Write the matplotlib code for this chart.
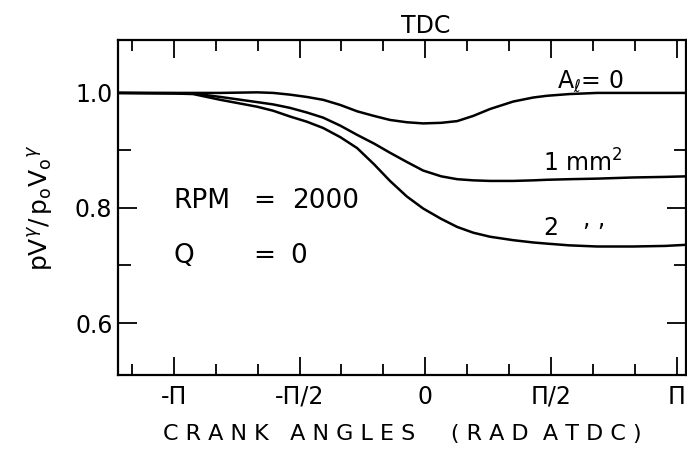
import numpy as np
import matplotlib
matplotlib.use("Agg")
import matplotlib.pyplot as plt

# crank angle (rad ATDC)
theta = [-3.85, -3.14, -2.9, -2.56, -2.1, -1.9, -1.69, -1.48, -1.275, -1.06, -0.85, -0.64,
         -0.44, -0.23, -0.025, 0.2, 0.4, 0.6, 0.81, 1.1, 1.35, 1.52, 1.8, 2.15, 2.6, 3.0, 3.27]

# A_l = 0
a0 = [1.0, 1.0, 1.0, 1.0, 1.001, 1.0, 0.997, 0.993, 0.988, 0.979, 0.968, 0.960,
      0.953, 0.949, 0.947, 0.948, 0.951, 0.960, 0.972, 0.985, 0.992, 0.995, 0.998, 1.0, 1.0, 1.0, 1.0]
# A_l = 1 mm^2
a1 = [1.0, 0.9995, 0.999, 0.993, 0.984, 0.980, 0.974, 0.966, 0.957, 0.943, 0.927, 0.912,
      0.896, 0.880, 0.865, 0.855, 0.850, 0.848, 0.847, 0.847, 0.848, 0.849, 0.850, 0.851, 0.853, 0.854, 0.855]
# A_l = 2 mm^2
a2 = [1.0, 0.999, 0.998, 0.988, 0.976, 0.969, 0.959, 0.950, 0.939, 0.923, 0.904, 0.876,
      0.847, 0.820, 0.799, 0.781, 0.767, 0.757, 0.750, 0.744, 0.740, 0.738, 0.735, 0.733, 0.733, 0.734, 0.736]

xticks = [-np.pi, -np.pi / 2, 0, np.pi / 2, np.pi]
xticklabels = ["-\u03a0", "-\u03a0/2", "0", "\u03a0/2", "\u03a0"]
yticks = [0.6, 0.8, 1.0]
yticklabels = ["0.6", "0.8", "1.0"]

plt.rcParams["mathtext.fontset"] = "dejavusans"

fig = plt.figure(figsize=(6.87, 4.55), dpi=100)
ax = fig.add_axes([118 / 687, 80 / 455, 568 / 687, 335 / 455])

for y in (a0, a1, a2):
    ax.plot(theta, y, color="black", lw=1.8)

ax.set_xlim(-3.84, 3.26)
ax.set_ylim(0.5096, 1.092)

ax.set_xticks(xticks)
ax.set_xticklabels(xticklabels, fontsize=17)
ax.set_xticks(np.arange(-7, 7) * np.pi / 6, minor=True)
ax.set_yticks(yticks)
ax.set_yticklabels(yticklabels, fontsize=17)
ax.set_yticks([0.7, 0.9], minor=True)

ax.tick_params(axis="x", which="both", direction="in", top=True, bottom=True, width=1.3)
ax.tick_params(axis="x", which="major", length=13, pad=7)
ax.tick_params(axis="x", which="minor", length=8)
ax.tick_params(axis="y", which="both", direction="in", width=1.3, left=True, right=True, pad=4)
ax.tick_params(axis="y", which="major", length=14)
ax.tick_params(axis="y", which="minor", length=9)
for s in ax.spines.values():
    s.set_linewidth(1.6)

ax.set_xlabel("C R A N K   A N G L E S     ( R A D  A T D C )", fontsize=16, labelpad=11)
ax.set_ylabel(r"$\mathrm{pV}^{\gamma}/\,\mathrm{p_oV_o}^{\gamma}$", fontsize=18)
ax.yaxis.set_label_coords(-0.111, 0.5)

ax.text(0, 1.104, "TDC", ha="center", va="baseline", fontsize=17)
ax.text(1.65, 1.009, r"A$_\ell$= 0", va="baseline", fontsize=17)
ax.text(1.47, 0.863, r"1 mm$^2$", va="baseline", fontsize=17)
ax.text(1.47, 0.753, "2", va="baseline", fontsize=17)
ax.text(1.97, 0.769, ", ,", va="baseline", fontsize=17)
ax.text(-3.15, 0.80, "RPM", va="baseline", fontsize=19)
ax.text(-2.15, 0.80, "=", va="baseline", fontsize=19)
ax.text(-1.66, 0.80, "2000", va="baseline", fontsize=19)
ax.text(-3.15, 0.704, "Q", va="baseline", fontsize=19)
ax.text(-2.15, 0.704, "=", va="baseline", fontsize=19)
ax.text(-1.69, 0.704, "0", va="baseline", fontsize=19)

fig.savefig("out.png", dpi=100)
